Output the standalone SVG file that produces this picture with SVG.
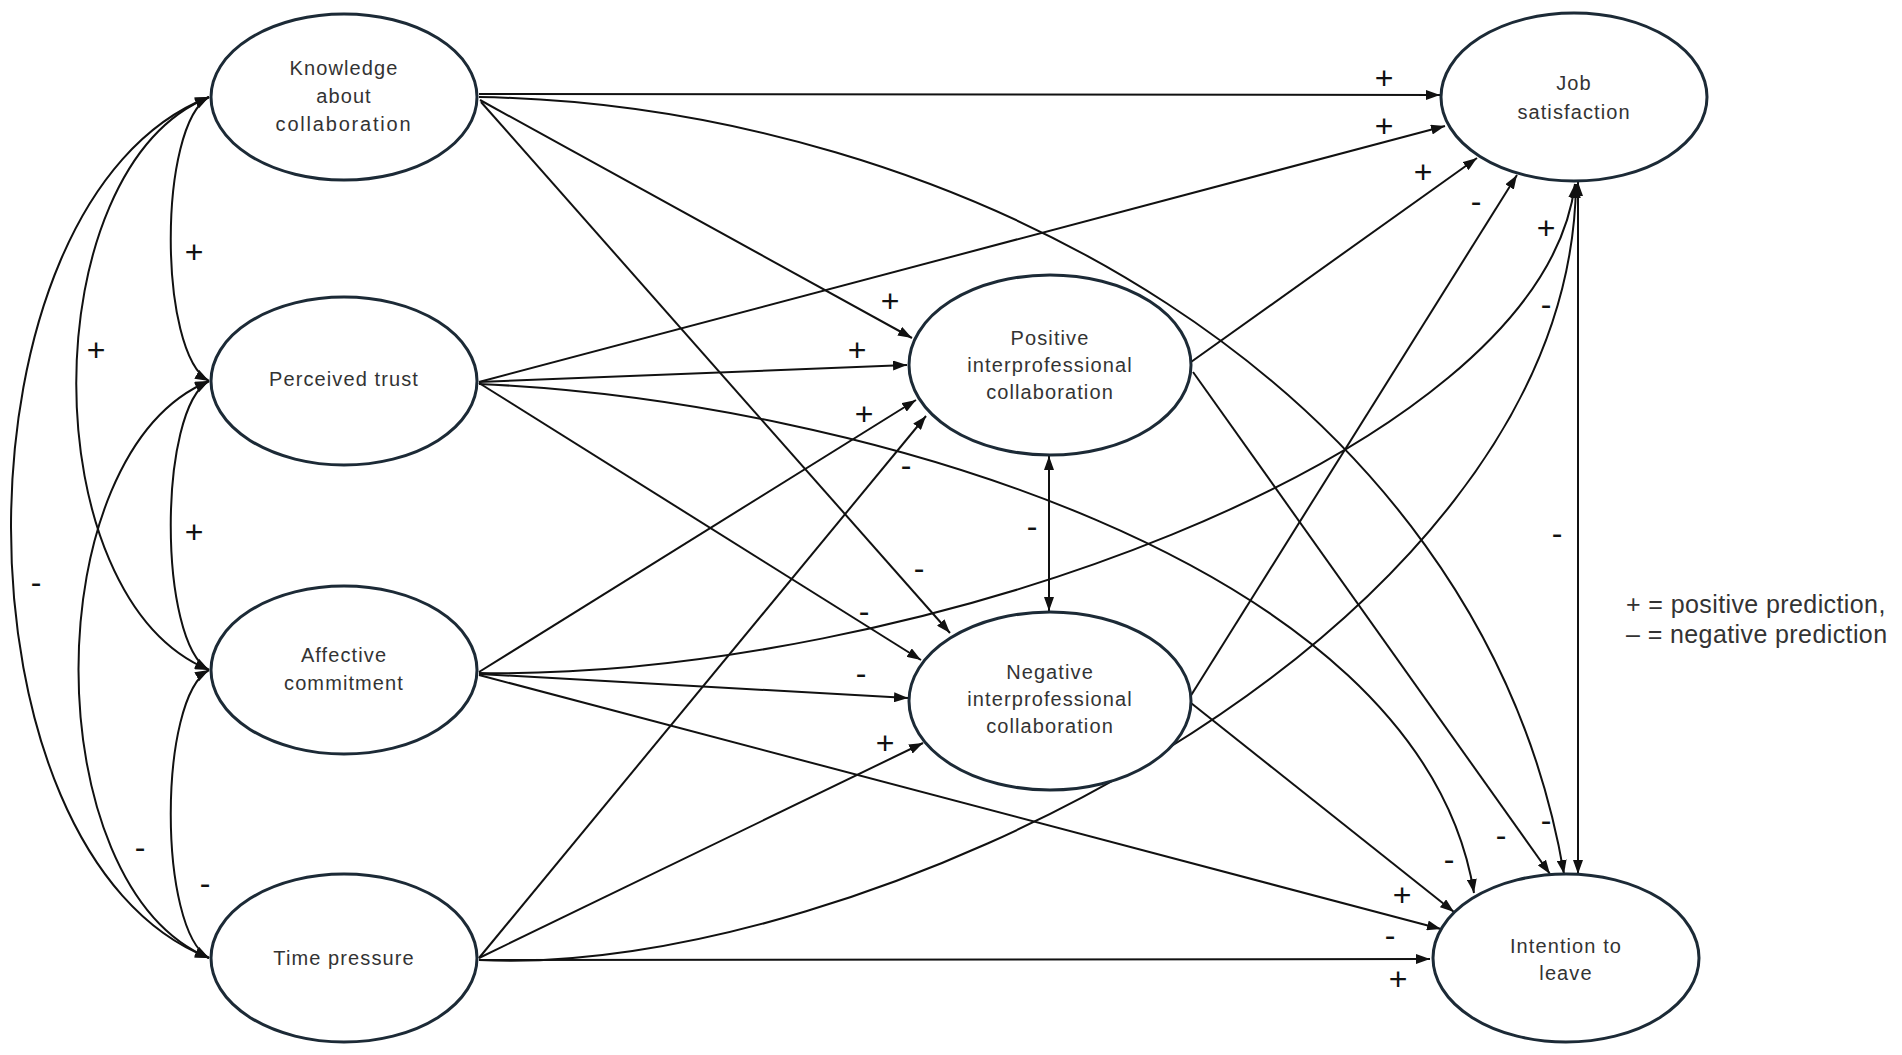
<svg xmlns="http://www.w3.org/2000/svg" width="1902" height="1055" viewBox="0 0 1902 1055">
<style>
.node ellipse{fill:#fff;stroke:#1c2a36;stroke-width:3}
.node text{font-family:"Liberation Sans",Arial,sans-serif;font-size:20px;letter-spacing:1.1px;fill:#333;text-anchor:middle}
#connectors path{fill:none;stroke:#111;stroke-width:2}
.arr{marker-end:url(#ah)}
.dbl{marker-start:url(#ah);marker-end:url(#ah)}
.sign{font-family:"Liberation Sans",Arial,sans-serif;font-size:32px;fill:#111;text-anchor:middle}
.legend{font-family:"Liberation Sans",Arial,sans-serif;font-size:25px;letter-spacing:0.4px;fill:#333}
</style>
<defs>
<marker id="ah" markerUnits="userSpaceOnUse" markerWidth="14" markerHeight="10" viewBox="0 0 14 10" refX="14" refY="5" orient="auto-start-reverse">
<path d="M0,0 L14,5 L0,10 z" fill="#111"/>
</marker>
</defs>
<rect width="1902" height="1055" fill="#fff"/>
<g id="connectors">
<!-- covariances -->
<path class="dbl" d="M209,97 C158,125 158,353 209,381"/>
<path class="dbl" d="M209,381 C158,409 158,642 209,670"/>
<path class="dbl" d="M209,670 C158,698 158,930 209,958"/>
<path class="dbl" d="M209,97 C32,170 32,597 209,670"/>
<path class="dbl" d="M209,381 C35,454 35,885 209,958"/>
<path class="dbl" d="M209,97 C-55,200 -55,855 209,958"/>
<!-- from Knowledge -->
<path class="arr" d="M479,94 L1440,95"/>
<path class="arr" d="M479,97 C950,105 1480,380 1564,874"/>
<path class="arr" d="M480,100 L912,338"/>
<path class="arr" d="M481,102 L950,633"/>
<!-- from Trust -->
<path class="arr" d="M479,382 L1445,126"/>
<path class="arr" d="M479,382 L907,365"/>
<path class="arr" d="M479,384 C850,400 1420,560 1474,893"/>
<path class="arr" d="M479,383 L921,660"/>
<!-- from Affective -->
<path class="arr" d="M479,672 L916,400"/>
<path class="arr" d="M479,673 C900,680 1540,460 1575,184"/>
<path class="arr" d="M479,674 L908,698"/>
<path class="arr" d="M479,675 L1441,929"/>
<!-- from Time pressure -->
<path class="arr" d="M479,958 L926,416"/>
<path class="arr" d="M479,958 L923,743"/>
<path class="arr" d="M479,960 C850,980 1570,640 1576,184"/>
<path class="arr" d="M479,960 L1430,959"/>
<!-- from Positive IPC -->
<path class="arr" d="M1191,362 L1477,158"/>
<path class="arr" d="M1193,372 L1550,874"/>
<!-- from Negative IPC -->
<path class="arr" d="M1190,697 L1517,175"/>
<path class="arr" d="M1191,703 L1454,912"/>
<!-- Pos <-> Neg -->
<path class="dbl" d="M1049,456 L1049,611"/>
<!-- Job <-> Intention -->
<path class="dbl" d="M1578,182 L1578,874"/>
</g>
<g id="signs">
<text class="sign" x="194" y="263">+</text>
<text class="sign" x="96" y="361">+</text>
<text class="sign" x="194" y="543">+</text>
<text class="sign" x="36" y="593">-</text>
<text class="sign" x="140" y="858">-</text>
<text class="sign" x="205" y="894">-</text>
<text class="sign" x="890" y="312">+</text>
<text class="sign" x="857" y="361">+</text>
<text class="sign" x="864" y="425">+</text>
<text class="sign" x="906" y="476">-</text>
<text class="sign" x="919" y="579">-</text>
<text class="sign" x="864" y="622">-</text>
<text class="sign" x="861" y="684">-</text>
<text class="sign" x="885" y="754">+</text>
<text class="sign" x="1032" y="537">-</text>
<text class="sign" x="1384" y="89">+</text>
<text class="sign" x="1384" y="137">+</text>
<text class="sign" x="1423" y="183">+</text>
<text class="sign" x="1476" y="212">-</text>
<text class="sign" x="1546" y="239">+</text>
<text class="sign" x="1546" y="315">-</text>
<text class="sign" x="1557" y="544">-</text>
<text class="sign" x="1546" y="831">-</text>
<text class="sign" x="1501" y="846">-</text>
<text class="sign" x="1449" y="870">-</text>
<text class="sign" x="1402" y="906">+</text>
<text class="sign" x="1390" y="946">-</text>
<text class="sign" x="1398" y="990">+</text>
</g>
<g id="node-knowledge" class="node">
<ellipse cx="344" cy="97" rx="133" ry="83"/>
<text x="344" y="75">Knowledge</text>
<text x="344" y="103">about</text>
<text x="344" y="131" style="letter-spacing:1.8px">collaboration</text>
</g>
<g id="node-trust" class="node">
<ellipse cx="344" cy="381" rx="133" ry="84"/>
<text x="344" y="386">Perceived trust</text>
</g>
<g id="node-affective" class="node">
<ellipse cx="344" cy="670" rx="133" ry="84"/>
<text x="344" y="662">Affective</text>
<text x="344" y="690">commitment</text>
</g>
<g id="node-time" class="node">
<ellipse cx="344" cy="958" rx="133" ry="84"/>
<text x="344" y="965">Time pressure</text>
</g>
<g id="node-positive" class="node">
<ellipse cx="1050" cy="365" rx="141" ry="90"/>
<text x="1050" y="345">Positive</text>
<text x="1050" y="372">interprofessional</text>
<text x="1050" y="399">collaboration</text>
</g>
<g id="node-negative" class="node">
<ellipse cx="1050" cy="701" rx="141" ry="89"/>
<text x="1050" y="679">Negative</text>
<text x="1050" y="706">interprofessional</text>
<text x="1050" y="733">collaboration</text>
</g>
<g id="node-job" class="node">
<ellipse cx="1574" cy="97" rx="133" ry="84"/>
<text x="1574" y="90">Job</text>
<text x="1574" y="119">satisfaction</text>
</g>
<g id="node-intention" class="node">
<ellipse cx="1566" cy="958" rx="133" ry="84"/>
<text x="1566" y="953">Intention to</text>
<text x="1566" y="980">leave</text>
</g>
<g id="legend">
<text class="legend" x="1626" y="613">+ = positive prediction,</text>
<text class="legend" x="1626" y="643">– = negative prediction</text>
</g>
</svg>
